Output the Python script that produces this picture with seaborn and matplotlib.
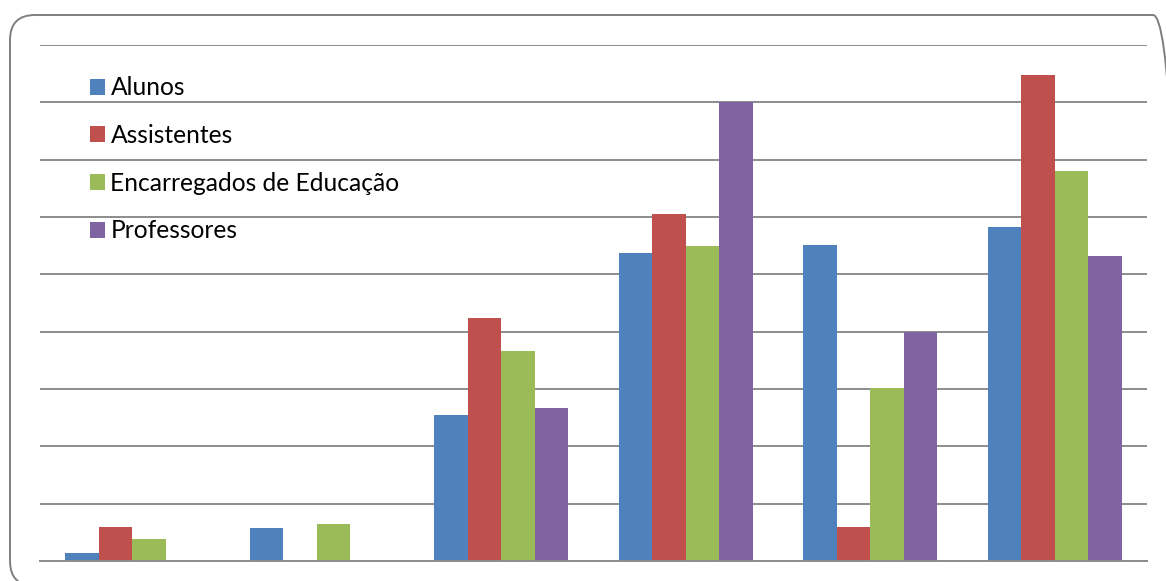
import matplotlib
matplotlib.use("Agg")
import matplotlib.pyplot as plt
from matplotlib.patches import FancyBboxPatch
from matplotlib.transforms import IdentityTransform
import seaborn as sns
import pandas as pd

# Values (grid step = 5)
groups = ["1", "2", "3", "4", "5", "6"]
series = ["Alunos", "Assistentes", "Encarregados de Educação", "Professores"]
alunos = [0.7, 2.9, 12.7, 26.9, 27.6, 29.1]
assistentes = [2.95, 0.0, 21.2, 30.3, 2.95, 42.4]
encarregados = [1.9, 3.2, 18.3, 27.5, 15.1, 34.0]
professores = [0.0, 0.0, 13.3, 40.0, 20.0, 26.6]
colors = ["#4F81BD", "#C0504D", "#9BBB59", "#8064A2"]

df = pd.DataFrame({
    "grupo": groups * 4,
    "serie": sum([[s] * len(groups) for s in series], []),
    "valor": alunos + assistentes + encarregados + professores,
})

sns.set_theme(style="white")
plt.rcParams["font.family"] = ["Lato", "DejaVu Sans"]

W, H = 1166, 581
fig = plt.figure(figsize=(W / 100, H / 100), dpi=100)
ax = fig.add_axes([40 / W, 1 - 561 / H, 1107 / W, 516 / H])

sns.barplot(data=df, x="grupo", y="valor", hue="serie", hue_order=series,
            palette=colors, width=0.724, linewidth=0, saturation=1, ax=ax)

ax.set_ylim(0, 45)
ax.set_yticks(range(0, 46, 5))
ax.yaxis.grid(True, color="#8C8C8C", linewidth=1.4)
ax.set_axisbelow(True)
ax.set_xlabel("")
ax.set_ylabel("")
ax.set_xticklabels([])
ax.set_yticklabels([])
ax.tick_params(length=0)
for side in ["top", "right", "left"]:
    ax.spines[side].set_visible(False)
ax.spines["bottom"].set_color("#8C8C8C")
ax.spines["bottom"].set_linewidth(1.4)

ax.legend(loc="upper left", bbox_to_anchor=(0.045, 0.939), frameon=False,
          fontsize=17.7, handlelength=0.62, handleheight=0.62,
          handletextpad=0.22, labelspacing=1.0, borderpad=0, borderaxespad=0,
          labelcolor="black")

# rounded outer frame (pixel coordinates, runs past the right and bottom edges)
frame = FancyBboxPatch((10, -5), 1168, 571,
                       boxstyle="round,pad=0,rounding_size=25",
                       transform=IdentityTransform(), fill=False,
                       edgecolor="#7F7F7F", linewidth=1.4)
fig.patches.append(frame)

fig.savefig("out.png", dpi=100)
